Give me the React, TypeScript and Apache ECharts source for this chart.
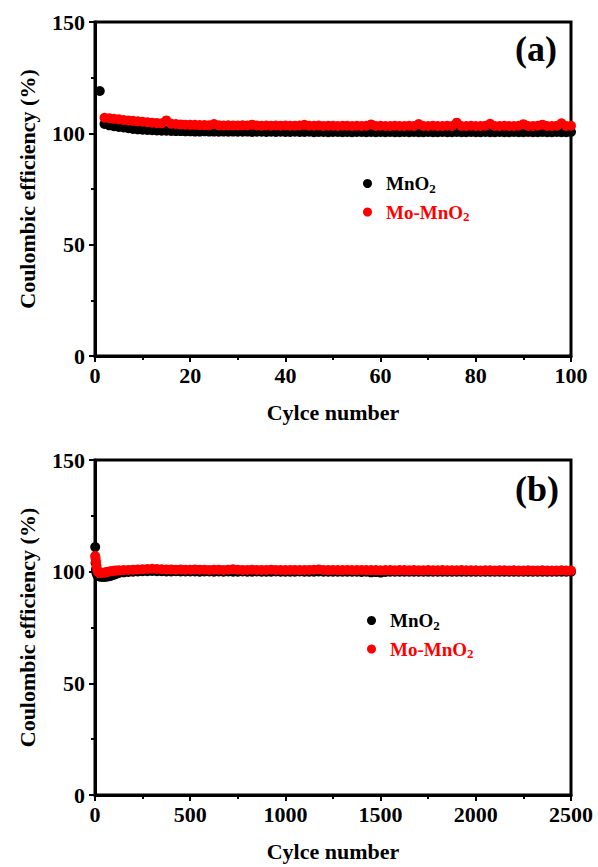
import React, { useEffect, useRef } from "react";
import * as echarts from "echarts";

const FONT = "Liberation Serif";

// (a) first 100 cycles
const cyclesA = [
  1, 2, 3, 4, 5, 6, 7, 8, 9, 10, 11, 12, 13, 14, 15, 16, 17, 18, 19, 20,
  21, 22, 23, 24, 25, 26, 27, 28, 29, 30, 31, 32, 33, 34, 35, 36, 37, 38, 39, 40,
  41, 42, 43, 44, 45, 46, 47, 48, 49, 50, 51, 52, 53, 54, 55, 56, 57, 58, 59, 60,
  61, 62, 63, 64, 65, 66, 67, 68, 69, 70, 71, 72, 73, 74, 75, 76, 77, 78, 79, 80,
  81, 82, 83, 84, 85, 86, 87, 88, 89, 90, 91, 92, 93, 94, 95, 96, 97, 98, 99, 100,
];
const mnO2A = [
  119.0, 104.2, 103.6, 103.2, 102.9, 102.6, 102.3, 102.0, 101.8, 101.6,
  101.5, 101.4, 101.3, 101.2, 101.2, 101.1, 101.0, 101.0, 100.9, 100.9,
  100.8, 100.8, 100.9, 100.8, 100.8, 100.7, 100.8, 100.7, 100.8, 100.7,
  100.7, 100.8, 100.6, 100.7, 100.7, 100.6, 100.7, 100.6, 100.7, 100.6,
  100.6, 100.7, 100.6, 100.6, 100.7, 100.5, 100.6, 100.6, 100.5, 100.6,
  100.6, 100.5, 100.6, 100.5, 100.6, 100.6, 100.5, 100.6, 100.5, 100.6,
  100.5, 100.6, 100.5, 100.5, 100.6, 100.5, 100.6, 100.5, 100.5, 100.6,
  100.5, 100.5, 100.6, 100.5, 100.5, 100.6, 100.5, 100.5, 100.6, 100.5,
  100.5, 100.6, 100.5, 100.5, 100.6, 100.5, 100.5, 100.6, 100.5, 100.5,
  100.6, 100.5, 100.5, 100.6, 100.5, 100.5, 100.6, 100.5, 100.5, 100.6,
];
const moMnO2A = [
  null, 107.0, 106.8, 106.5, 106.3, 106.0, 105.8, 105.6, 105.4, 105.2,
  105.0, 104.8, 104.6, 104.5, 105.8, 104.3, 104.2, 104.0, 103.9, 103.8,
  103.8, 103.7, 103.7, 103.6, 104.2, 103.6, 103.5, 103.6, 103.5, 103.5,
  103.6, 103.5, 103.9, 103.5, 103.4, 103.5, 103.4, 103.5, 103.4, 103.5,
  103.4, 103.4, 103.5, 103.8, 103.4, 103.4, 103.5, 103.3, 103.4, 103.4,
  103.3, 103.4, 103.4, 103.3, 103.4, 103.3, 103.4, 104.0, 103.3, 103.4,
  103.3, 103.3, 103.4, 103.3, 103.3, 103.4, 103.3, 104.2, 103.3, 103.3,
  103.4, 103.3, 103.3, 103.4, 103.3, 104.8, 103.3, 103.3, 103.4, 103.3,
  103.3, 103.4, 104.3, 103.3, 103.3, 103.4, 103.3, 103.3, 103.4, 104.1,
  103.3, 103.3, 103.4, 103.9, 103.3, 103.3, 103.4, 104.5, 103.3, 103.4,
];

// (b) long-term cycling, 2500 cycles (sampled cycles)
const cyclesB = [
  1, 3, 5, 8, 12, 16, 20, 25, 30, 40, 50, 60, 70, 80, 90, 100, 110, 125, 150, 175, 200,
  225, 250, 275, 300, 325, 350, 375, 400, 425, 450, 475, 500,
  525, 550, 575, 600, 625, 650, 675, 700, 725, 750, 775, 800,
  825, 850, 875, 900, 925, 950, 975, 1000, 1025, 1050, 1075, 1100,
  1125, 1150, 1175, 1200, 1225, 1250, 1275, 1300, 1325, 1350, 1375, 1400,
  1425, 1450, 1475, 1500, 1525, 1550, 1575, 1600, 1625, 1650, 1675, 1700,
  1725, 1750, 1775, 1800, 1825, 1850, 1875, 1900, 1925, 1950, 1975, 2000,
  2025, 2050, 2075, 2100, 2125, 2150, 2175, 2200, 2225, 2250, 2275, 2300,
  2325, 2350, 2375, 2400, 2425, 2450, 2475, 2500,
];
const mnO2B = [
  111.0, 104.0, 101.0, 99.3, 98.5, 98.2, 98.0, 97.9, 97.8, 97.7, 97.7, 97.8, 97.9, 98.1, 98.4, 98.7, 99.0, 99.4, 99.7, 99.9, 100.0,
  100.1, 100.2, 100.2, 100.3, 100.2, 100.2, 100.1, 100.1, 100.2, 100.1, 100.1, 100.1,
  100.1, 100.0, 100.1, 100.1, 100.0, 100.1, 100.0, 100.1, 100.0, 100.0, 100.1, 100.0,
  100.0, 100.1, 100.0, 100.0, 100.0, 100.1, 100.0, 100.0, 100.0, 100.0, 100.1, 100.0,
  100.0, 100.0, 100.1, 100.0, 100.0, 100.0, 100.0, 100.0, 100.0, 100.0, 100.0, 99.9,
  100.0, 99.7, 99.8, 99.6, 99.9, 100.0, 100.0, 100.0, 100.0, 100.0, 100.0, 100.0,
  100.0, 100.0, 100.0, 100.0, 100.0, 100.0, 100.0, 100.0, 100.0, 100.0, 100.0, 100.0,
  100.0, 100.0, 100.0, 100.0, 100.0, 100.0, 100.0, 100.0, 100.0, 100.0, 100.0, 100.0,
  100.0, 100.0, 100.0, 100.0, 100.0, 100.0, 100.0, 100.0,
];
const moMnO2B = [
  107.0, 106.0, 104.5, 102.5, 100.8, 100.0, 99.6, 99.4, 99.4, 99.5, 99.6, 99.8, 100.0, 100.2, 100.3, 100.4, 100.5, 100.6, 100.7, 100.8, 100.9,
  101.0, 101.1, 101.2, 101.3, 101.2, 101.1, 101.0, 101.0, 100.9, 101.0, 100.9, 100.9,
  101.0, 100.9, 100.9, 100.8, 100.9, 100.9, 100.8, 100.9, 101.1, 100.9, 100.8, 100.8,
  100.9, 100.8, 100.8, 100.8, 100.9, 100.8, 100.8, 100.7, 100.8, 100.8, 100.7, 100.8,
  100.8, 100.9, 101.0, 100.8, 100.7, 100.8, 100.7, 100.7, 100.8, 100.7, 100.7, 100.8,
  100.7, 100.7, 100.7, 100.6, 100.7, 100.7, 100.6, 100.7, 100.7, 100.6, 100.7, 100.6,
  100.6, 100.7, 100.6, 100.6, 100.7, 100.6, 100.6, 100.6, 100.7, 100.6, 100.6, 100.6,
  100.5, 100.6, 100.6, 100.5, 100.6, 100.6, 100.5, 100.6, 100.5, 100.5, 100.6, 100.5,
  100.5, 100.6, 100.5, 100.5, 100.5, 100.6, 100.5, 100.5,
];

const xTicksA = { min: 0, max: 100, interval: 20 };
const xTicksB = { min: 0, max: 2500, interval: 500 };
const yTicks = { min: 0, max: 150, interval: 50 };

const seriesNames = ["MnO2", "Mo-MnO2"];
const panelLabels = ["(a)", "(b)"];

function pairs(xs: number[], ys: (number | null)[]) {
  const out: any[] = [];
  xs.forEach((x, i) => {
    if (ys[i] !== null && ys[i] !== undefined) out.push([x, ys[i]]);
  });
  return out;
}

export default function App() {
  const ref = useRef<HTMLDivElement>(null);

  useEffect(() => {
    if (!ref.current) return;
    const chart = echarts.init(ref.current, null, { renderer: "svg" });

    const axisLabel = {
      fontFamily: FONT,
      fontWeight: "bold" as const,
      fontSize: 22,
      color: "#000",
      formatter: (v: number) => String(v),
    };
    const axisLine = { show: true, lineStyle: { color: "#000", width: 3 } };
    const axisTick = { show: true, inside: false, length: 6, lineStyle: { color: "#000", width: 2 } };
    const minorTick = { show: true, splitNumber: 2, length: 4, lineStyle: { color: "#000", width: 2 } };
    const nameTextStyle = { fontFamily: FONT, fontWeight: "bold" as const, fontSize: 22, color: "#000" };

    const mkX = (gi: number, t: any) => ({
      type: "value",
      gridIndex: gi,
      min: t.min,
      max: t.max,
      interval: t.interval,
      name: "Cylce number",
      nameLocation: "middle",
      nameGap: 45,
      nameTextStyle,
      axisLine,
      axisTick,
      minorTick,
      axisLabel: { ...axisLabel, margin: 8 },
      splitLine: { show: false },
    });
    const mkY = (gi: number) => ({
      type: "value",
      gridIndex: gi,
      min: yTicks.min,
      max: yTicks.max,
      interval: yTicks.interval,
      name: "Coulombic efficiency (%)",
      nameLocation: "middle",
      nameGap: 57,
      nameRotate: 90,
      nameTextStyle,
      axisLine,
      axisTick,
      minorTick,
      axisLabel: { ...axisLabel, margin: 10 },
      splitLine: { show: false },
    });

    const rich = {
      k: { fontFamily: FONT, fontWeight: "bold", fontSize: 19, color: "#000", lineHeight: 22, padding: [0, 0, 0, 9] },
      ks: { fontFamily: FONT, fontWeight: "bold", fontSize: 13, color: "#000", lineHeight: 14, verticalAlign: "bottom" },
      r: { fontFamily: FONT, fontWeight: "bold", fontSize: 19, color: "#ff0000", lineHeight: 22, padding: [0, 0, 0, 9] },
      rs: { fontFamily: FONT, fontWeight: "bold", fontSize: 13, color: "#ff0000", lineHeight: 14, verticalAlign: "bottom" },
    };
    const mkLegend = (left: number, top: number) => ({
      left,
      top,
      orient: "vertical",
      icon: "circle",
      itemWidth: 9,
      itemHeight: 9,
      itemGap: 8,
      padding: 0,
      selectedMode: false,
      data: seriesNames,
      formatter: (n: string) => (n === "MnO2" ? "{k|MnO}{ks|2}" : "{r|Mo-MnO}{rs|2}"),
      textStyle: { fontFamily: FONT, fontWeight: "bold", rich },
    });

    const mkSeries = (name: string, gi: number, data: any[], color: string) => ({
      type: "scatter",
      name,
      xAxisIndex: gi,
      yAxisIndex: gi,
      symbol: "circle",
      symbolSize: 10,
      data,
      itemStyle: { color, opacity: 1 },
      emphasis: { disabled: true },
      z: name === "MnO2" ? 2 : 3,
    });

    chart.setOption({
      animation: false,
      backgroundColor: "#fff",
      textStyle: { fontFamily: FONT },
      grid: [
        { left: 95, top: 22, width: 476, height: 334, show: true, borderColor: "#000", borderWidth: 3, backgroundColor: "transparent" },
        { left: 95, top: 460, width: 476, height: 335, show: true, borderColor: "#000", borderWidth: 3, backgroundColor: "transparent" },
      ],
      xAxis: [mkX(0, xTicksA), mkX(1, xTicksB)],
      yAxis: [mkY(0), mkY(1)],
      legend: [mkLegend(363, 174), mkLegend(367, 611)],
      graphic: [
        { type: "text", left: 515, top: 31, style: { text: panelLabels[0], fontFamily: FONT, fontWeight: "bold", fontSize: 36, fill: "#000" } },
        { type: "text", left: 515, top: 471, style: { text: panelLabels[1], fontFamily: FONT, fontWeight: "bold", fontSize: 36, fill: "#000" } },
      ],
      series: [
        mkSeries("MnO2", 0, pairs(cyclesA, mnO2A), "#000000"),
        mkSeries("Mo-MnO2", 0, pairs(cyclesA, moMnO2A), "#ff0000"),
        mkSeries("MnO2", 1, pairs(cyclesB, mnO2B), "#000000"),
        mkSeries("Mo-MnO2", 1, pairs(cyclesB, moMnO2B), "#ff0000"),
      ],
    });

    return () => chart.dispose();
  }, []);

  return (
    <div
      ref={ref}
      style={{ position: "fixed", left: 0, top: 0, width: 598, height: 867, background: "#fff" }}
    />
  );
}
